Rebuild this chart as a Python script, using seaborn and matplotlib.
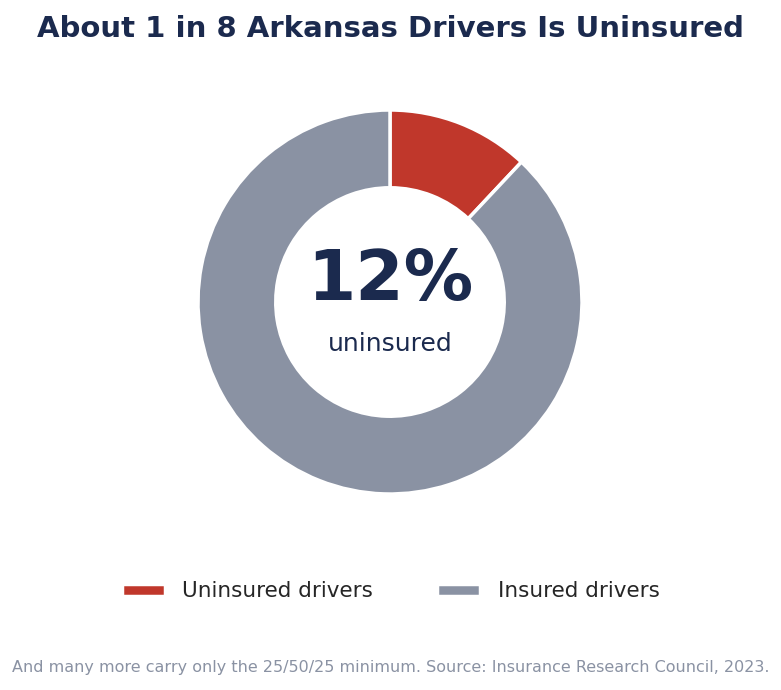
import matplotlib
matplotlib.use("Agg")
import matplotlib.pyplot as plt
import seaborn as sns

sns.set_theme(style="white")
plt.rcParams['font.family'] = ['DejaVu Sans']

labels = ["Uninsured drivers", "Insured drivers"]
values = [12, 88]
colors = ["#C0372B", "#8A92A3"]
navy = "#1B2A4E"

fig = plt.figure(figsize=(7.81, 6.9), dpi=100)
ax = fig.add_axes([198/781, 196/690, 384/781, 384/690])
wedges, _ = ax.pie(values, colors=colors, startangle=90, counterclock=False,
                   radius=1.0, wedgeprops=dict(width=0.405, edgecolor="white", linewidth=2.5))
ax.set_xlim(-1, 1); ax.set_ylim(-1, 1); ax.set_aspect("equal"); ax.axis("off")
ax.text(0, 0.11, f"{values[0]}%", ha="center", va="center", fontsize=50, fontweight="bold", color=navy)
ax.text(0, -0.22, "uninsured", ha="center", va="center", fontsize=18, color=navy)

fig.text(0.5, 0.958, "About 1 in 8 Arkansas Drivers Is Uninsured", ha="center", va="center",
         fontsize=21, fontweight="bold", color=navy)
fig.legend(wedges, labels, loc="center", bbox_to_anchor=(0.5, 0.143), ncol=2, frameon=False,
           fontsize=15.5, handlelength=2, handleheight=0.5, columnspacing=3)
fig.text(0.5, 0.033, "And many more carry only the 25/50/25 minimum. Source: Insurance Research Council, 2023.",
         ha="center", va="center", fontsize=11.5, color="#8A92A3")
fig.savefig("out.png", dpi=100)
